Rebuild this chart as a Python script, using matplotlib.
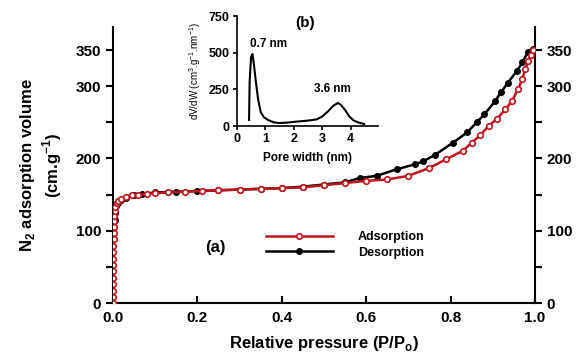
import matplotlib
matplotlib.use("Agg")
import matplotlib.pyplot as plt
import numpy as np

plt.rcParams['font.family'] = ['Liberation Sans', 'DejaVu Sans']
plt.rcParams['font.weight'] = 'bold'

# isotherm (a)
ads_p = [0.0005, 0.0006, 0.0007, 0.0008, 0.0009, 0.0010, 0.0011, 0.0012, 0.0013, 0.0014,
         0.0016, 0.0018, 0.002, 0.0025, 0.003, 0.004, 0.006, 0.009, 0.013, 0.02, 0.03,
         0.045, 0.06, 0.08, 0.1, 0.13, 0.17, 0.21, 0.25, 0.3, 0.35, 0.4, 0.45, 0.5, 0.55,
         0.6, 0.65, 0.7, 0.75, 0.79, 0.83, 0.85, 0.87, 0.89, 0.91, 0.93, 0.945, 0.96,
         0.97, 0.977, 0.984, 0.99, 0.995]
ads_v = [0, 8, 17, 26, 35, 44, 52, 61, 70, 79, 88, 97, 105, 113, 120, 127, 133, 138, 141,
         144, 147, 149, 150, 151, 152, 153, 154, 155, 156, 157, 158, 159, 160, 163, 166,
         169, 171, 176, 187, 199, 211, 222, 232, 245, 255, 268, 279, 296, 310, 324, 335,
         343, 350]

des_p = [0.995, 0.983, 0.97, 0.957, 0.936, 0.92, 0.905, 0.88, 0.862, 0.839, 0.806, 0.763,
         0.735, 0.716, 0.672, 0.625, 0.585, 0.55, 0.5, 0.45, 0.4, 0.35, 0.3, 0.25, 0.2,
         0.15, 0.1, 0.07, 0.05, 0.03, 0.02, 0.012, 0.008, 0.005, 0.004, 0.003]
des_v = [352, 347, 333, 321, 305, 292, 279, 261, 250, 236, 222, 205, 196, 192, 185, 176,
         173, 167, 164, 161, 159, 158, 157, 156, 155, 154, 153, 151, 149, 146, 143, 139,
         134, 125, 115, 105]

# pore size distribution (b)
pore_w = [0.43, 0.45, 0.5, 0.55, 0.6, 0.67, 0.75, 0.84, 0.95, 1.1, 1.3, 1.5, 1.8, 2.1,
          2.5, 2.8, 3.0, 3.2, 3.4, 3.55, 3.65, 3.8, 3.95, 4.1, 4.3, 4.47]
dvdw = [41, 300, 470, 491, 420, 300, 180, 95, 60, 41, 25, 20, 24, 30,
        37, 45, 65, 100, 140, 157, 145, 110, 65, 38, 22, 14]

y_ticks = [0, 50, 100, 150, 200, 250, 300, 350]
y_labels = ['0', '', '100', '', '200', '', '300', '350']

fig = plt.figure(figsize=(5.79, 3.53), dpi=100)
ax = fig.add_axes([0.195, 0.1416, 0.729, 0.782])

ax.plot(ads_p, ads_v, color='#c0141c', lw=1.8, marker='o', ms=4,
        mfc='white', mec='#c0141c', mew=1.2, label='Adsorption', zorder=3)
ax.plot(des_p, des_v, color='black', lw=1.8, marker='o', ms=4,
        mfc='black', mec='black', label='Desorption', zorder=2)

ax.set_xlim(0, 1.0)
ax.set_ylim(0, 382)
ax.set_xticks([0, 0.2, 0.4, 0.6, 0.8, 1.0])
ax.set_xticklabels(['0.0', '0.2', '0.4', '0.6', '0.8', '1.0'])
ax.set_yticks(y_ticks)
ax.set_yticklabels(y_labels)
ax.spines['top'].set_visible(False)
for s in ['left', 'right', 'bottom']:
    ax.spines[s].set_linewidth(1.5)
ax.tick_params(axis='x', direction='in', length=5, width=1.5, labelsize=11, pad=6)
ax.tick_params(axis='y', direction='out', length=5, width=1.5, labelsize=11,
               right=True, labelright=True)
ax.set_xlabel('Relative pressure (P/P$_\\mathregular{o}$)', fontsize=12, fontweight='bold', labelpad=6)
ax.set_ylabel('N$_\\mathregular{2}$ adsorption volume\n(cm.g$^\\mathregular{-1}$)', fontsize=12,
              fontweight='bold', labelpad=8)

ax.legend(loc='upper left', bbox_to_anchor=(0.335, 0.30), frameon=False, fontsize=9,
          handlelength=5.4, handletextpad=2.0, labelspacing=0.25)
ax.text(0.242, 0.20, '(a)', transform=ax.transAxes, fontsize=12, fontweight='bold',
        ha='center', va='center')

# inset
ins = fig.add_axes([0.409, 0.643, 0.2435, 0.3116])
ins.plot(pore_w, dvdw, color='black', lw=1.5)
ins.set_xlim(0, 4.95)
ins.set_ylim(0, 750)
ins.set_xticks([0, 1, 2, 3, 4])
ins.set_yticks([0, 250, 500, 750])
ins.spines['top'].set_visible(False)
ins.spines['right'].set_visible(False)
for s in ['left', 'bottom']:
    ins.spines[s].set_linewidth(1.2)
ins.tick_params(direction='out', length=3, width=1.2, labelsize=9, pad=2)
ins.set_xlabel('Pore width (nm)', fontsize=8.5, fontweight='bold', labelpad=5)
ins.set_ylabel('dV/dW (cm$^\\mathregular{3}$.g$^\\mathregular{-1}$.nm$^\\mathregular{-1}$)', fontsize=7,
               fontweight='normal', labelpad=4)
ins.text(2.4, 700, '(b)', fontsize=11, fontweight='bold', ha='center', va='center')
ins.text(1.1, 560, '0.7 nm', fontsize=8.5, fontweight='bold', ha='center', va='center')
ins.text(3.35, 255, '3.6 nm', fontsize=8.5, fontweight='bold', ha='center', va='center')

fig.savefig('out.png', dpi=100)
